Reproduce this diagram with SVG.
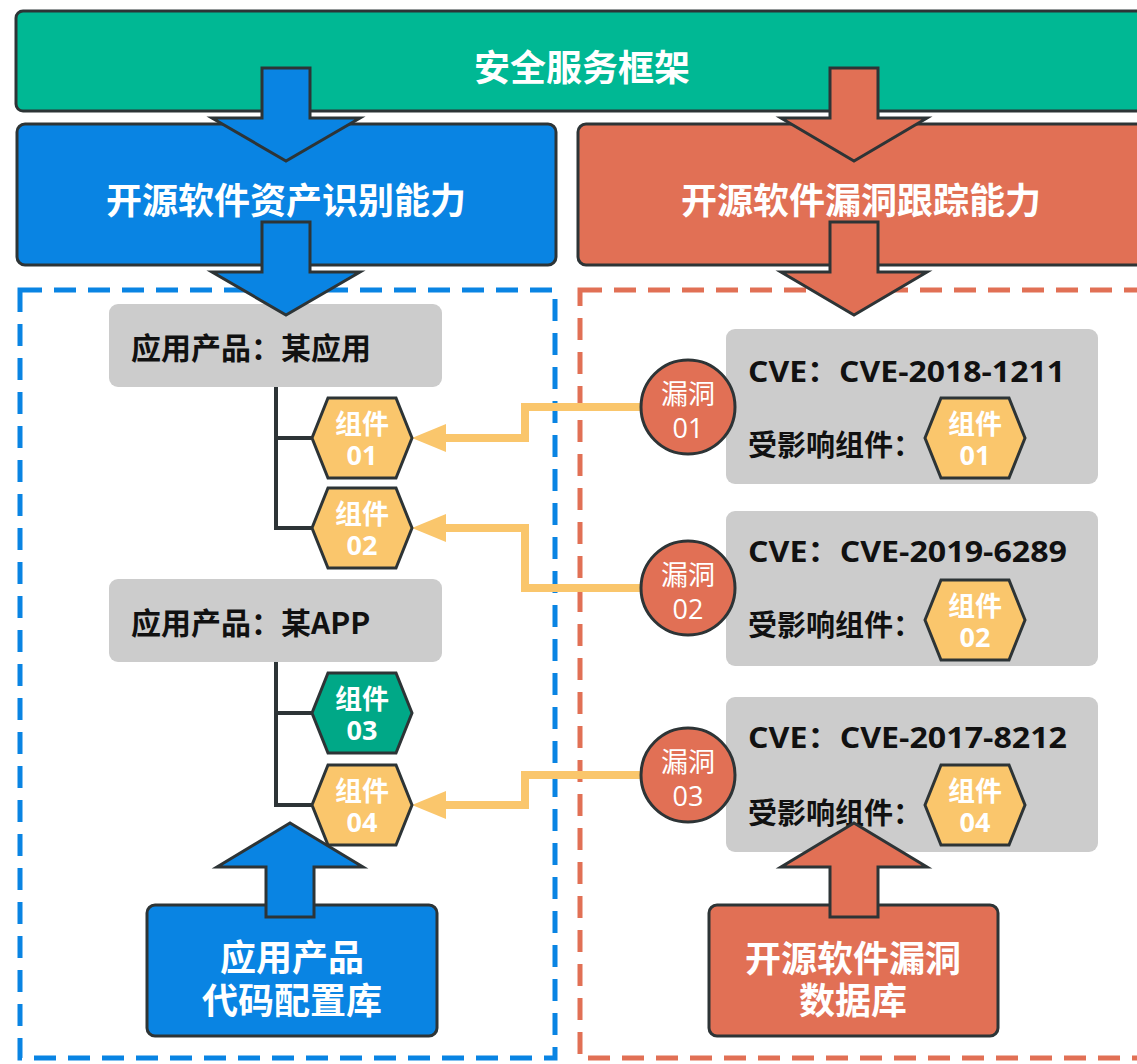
<svg xmlns="http://www.w3.org/2000/svg" xmlns:xlink="http://www.w3.org/1999/xlink" width="1137" height="1064" viewBox="0 0 1137 1064">
<style>
.cjk{font-family:"Noto Sans CJK SC","Noto Sans",sans-serif;}
.lat{font-family:"Open Sans","Noto Sans CJK SC",sans-serif;}
.title{font-size:36px;font-weight:700;fill:#fff;text-anchor:middle;}
.prod{font-size:30px;font-weight:700;fill:#111;}
.cve{font-size:29px;font-weight:700;fill:#111;}
.aff{font-size:29px;font-weight:700;fill:#111;}
.hx{font-size:27px;font-weight:700;fill:#fff;text-anchor:middle;}
.ci{font-size:27px;font-weight:400;fill:#fff;text-anchor:middle;}
.num{font-family:"Open Sans","Noto Sans",sans-serif;}
.ol{stroke:#2d3436;stroke-width:3;stroke-linejoin:miter;}
.gray{fill:#cccccc;}
.yel{fill:#fac66c;}
.grn{fill:#00a887;}
.big-b{fill:#0984e3;}
.big-o{fill:#e17055;}
.conn{fill:none;stroke:#fac66c;stroke-width:8;}
.tree{fill:none;stroke:#2d3436;stroke-width:4;}
</style>
<defs>
<polygon id="hex" points="-50,0 -34,-40 34,-40 50,0 34,40 -34,40"/>
</defs>
<rect width="1137" height="1064" fill="#ffffff"/>

<g id="container-asset">
<rect x="20" y="290" width="535" height="768" fill="none" stroke="#0984e3" stroke-width="5" stroke-dasharray="22 12"/>
</g>
<g id="container-vuln">
<rect x="580" y="290" width="600" height="768" fill="none" stroke="#e17055" stroke-width="5" stroke-dasharray="22 12"/>
</g>

<g id="framework">
<rect x="16" y="11" width="1140" height="100" rx="7" fill="#00b894" class="ol"/>
<text x="582" y="81" class="cjk title">安全服务框架</text>
</g>
<g id="asset-capability">
<rect x="17" y="124" width="539" height="141" rx="8" class="big-b ol"/>
<text x="286" y="214" class="cjk title">开源软件资产识别能力</text>
</g>
<g id="vuln-capability">
<rect x="578" y="124" width="600" height="141" rx="8" class="big-o ol"/>
<text x="861" y="214" class="cjk title">开源软件漏洞跟踪能力</text>
</g>

<g id="product-app">
<rect x="109" y="304" width="333" height="83" rx="9" class="gray"/>
<text x="131" y="359" class="cjk prod">应用产品：某应用</text>
</g>
<g id="product-APP">
<rect x="109" y="579" width="333" height="83" rx="9" class="gray"/>
<text x="131" y="634" class="cjk prod">应用产品：某APP</text>
</g>

<g id="cve-2018-1211">
<rect x="726" y="329" width="372" height="155" rx="9" class="gray"/>
<text x="748" y="382" class="lat cve" textLength="317" lengthAdjust="spacingAndGlyphs">CVE：CVE-2018-1211</text>
<text x="748" y="456" class="cjk aff">受影响组件：</text>
<use xlink:href="#hex" x="975" y="438" class="yel ol"/>
<text x="975" y="434" class="cjk hx">组件<tspan x="975" dy="31" class="num">01</tspan></text>
</g>
<g id="cve-2019-6289">
<rect x="726" y="511" width="372" height="155" rx="9" class="gray"/>
<text x="748" y="562" class="lat cve" textLength="319" lengthAdjust="spacingAndGlyphs">CVE：CVE-2019-6289</text>
<text x="748" y="636" class="cjk aff">受影响组件：</text>
<use xlink:href="#hex" x="975" y="620" class="yel ol"/>
<text x="975" y="616" class="cjk hx">组件<tspan x="975" dy="31" class="num">02</tspan></text>
</g>
<g id="cve-2017-8212">
<rect x="726" y="697" width="372" height="155" rx="9" class="gray"/>
<text x="748" y="748" class="lat cve" textLength="319" lengthAdjust="spacingAndGlyphs">CVE：CVE-2017-8212</text>
<text x="748" y="824" class="cjk aff">受影响组件：</text>
<use xlink:href="#hex" x="975" y="805" class="yel ol"/>
<text x="975" y="801" class="cjk hx">组件<tspan x="975" dy="31" class="num">04</tspan></text>
</g>

<g id="code-repo">
<rect x="147" y="905" width="290" height="131" rx="8" class="big-b ol"/>
<text x="292" y="971" class="cjk title">应用产品<tspan x="292" dy="43">代码配置库</tspan></text>
</g>
<g id="vuln-db">
<rect x="709" y="905" width="289" height="131" rx="8" class="big-o ol"/>
<text x="853" y="972" class="cjk title">开源软件漏洞<tspan x="853" dy="42">数据库</tspan></text>
</g>

<g id="connectors">
<polygon points="262,68 310,68 310,118 360,118 286,161 212,118 262,118" class="big-b ol"/>
<polygon points="262,222 310,222 310,272 360,272 286,315 212,272 262,272" class="big-b ol"/>
<polygon points="830,68 878,68 878,118 927,118 854,161 781,118 830,118" class="big-o ol"/>
<polygon points="830,222 878,222 878,272 927,272 854,315 781,272 830,272" class="big-o ol"/>
<polygon points="266,917 314,917 314,867 363,867 290,823 217,867 266,867" class="big-b ol"/>
<polygon points="830,917 878,917 878,867 927,867 854,823 781,867 830,867" class="big-o ol"/>
<path d="M276,387 V528 H312 M276,438 H312" class="tree"/>
<path d="M276,662 V805 H312 M276,713 H312" class="tree"/>
<path d="M641,407 H525 V438 H440" class="conn"/>
<polygon points="412,438 446,424 446,452" class="yel"/>
<path d="M641,588 H525 V528 H440" class="conn"/>
<polygon points="412,528 446,514 446,542" class="yel"/>
<path d="M641,775 H525 V805 H440" class="conn"/>
<polygon points="412,805 446,791 446,819" class="yel"/>
</g>

<g id="comp-01">
<use xlink:href="#hex" x="362" y="438" class="yel ol"/>
<text x="362" y="434" class="cjk hx">组件<tspan x="362" dy="31" class="num">01</tspan></text>
</g>
<g id="comp-02">
<use xlink:href="#hex" x="362" y="528" class="yel ol"/>
<text x="362" y="524" class="cjk hx">组件<tspan x="362" dy="31" class="num">02</tspan></text>
</g>
<g id="comp-03">
<use xlink:href="#hex" x="362" y="713" class="grn ol"/>
<text x="362" y="709" class="cjk hx">组件<tspan x="362" dy="31" class="num">03</tspan></text>
</g>
<g id="comp-04">
<use xlink:href="#hex" x="362" y="805" class="yel ol"/>
<text x="362" y="801" class="cjk hx">组件<tspan x="362" dy="31" class="num">04</tspan></text>
</g>

<g id="vuln-01">
<circle cx="688" cy="407" r="47" class="big-o ol"/>
<text x="688" y="404" class="cjk ci">漏洞<tspan x="688" dy="34" class="num">01</tspan></text>
</g>
<g id="vuln-02">
<circle cx="688" cy="588" r="47" class="big-o ol"/>
<text x="688" y="585" class="cjk ci">漏洞<tspan x="688" dy="34" class="num">02</tspan></text>
</g>
<g id="vuln-03">
<circle cx="688" cy="775" r="47" class="big-o ol"/>
<text x="688" y="772" class="cjk ci">漏洞<tspan x="688" dy="34" class="num">03</tspan></text>
</g>
</svg>
